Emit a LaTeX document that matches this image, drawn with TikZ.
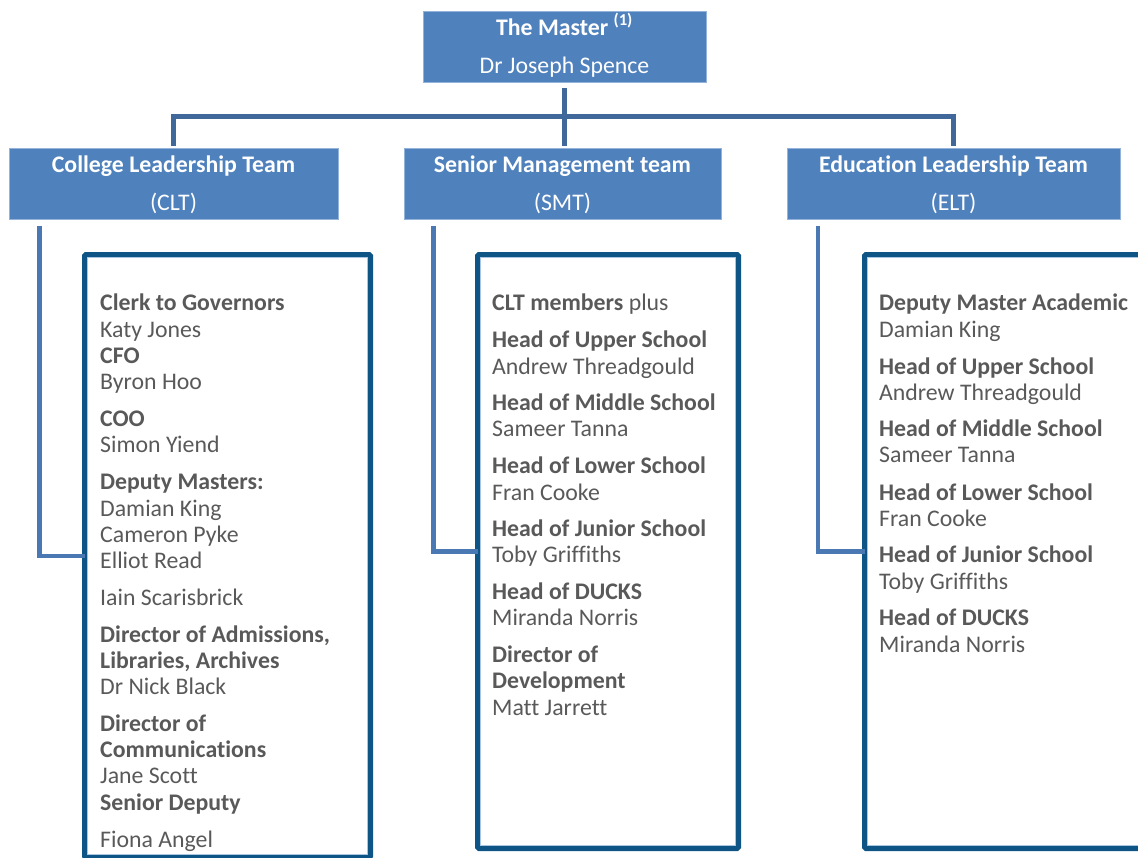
\documentclass[tikz,border=0pt]{standalone}
\usepackage{fontspec}
\setmainfont{Carlito}[Ligatures=NoCommon]
\definecolor{hdrblue}{HTML}{4F81BD}
\definecolor{hdredge}{HTML}{93B3DB}
\definecolor{busblue}{HTML}{41689A}
\definecolor{sideblue}{HTML}{4A78B2}
\definecolor{boxblue}{HTML}{0E5485}
\definecolor{boxinner}{HTML}{A8C6E2}
\definecolor{txtgray}{HTML}{595959}
\begin{document}
\begin{tikzpicture}[x=1pt,y=-1pt,
  hdrbox/.style={draw=hdredge,line width=0.8pt,fill=hdrblue,inner sep=0pt,outer sep=0pt},
  hdrtext/.style={anchor=base,inner sep=0pt,text=white,font=\fontsize{23.8}{26}\selectfont},
  busline/.style={draw=busblue,line width=5pt},
  sideline/.style={draw=sideblue,line width=4.5pt},
  contentbox/.style={draw=boxblue,line width=5pt,rounded corners=1.5pt,inner sep=0pt,outer sep=0pt},
  innerline/.style={draw=boxinner,line width=0.8pt},
  itemtext/.style={anchor=base west,inner sep=0pt,text=txtgray,font=\fontsize{23.8}{26}\selectfont}]
\useasboundingbox (0,0) rectangle (1138,857);

% header boxes
\node[hdrbox,minimum width=283pt,minimum height=71pt] (master) at (564.5,46.5) {};
\node[hdrbox,minimum width=329pt,minimum height=71pt] (clt) at (173.5,183.5) {};
\node[hdrbox,minimum width=317pt,minimum height=71pt] (smt) at (562.5,183.5) {};
\node[hdrbox,minimum width=333pt,minimum height=71pt] (elt) at (953.5,183.5) {};

\node[hdrtext] (mastert) at (564.5,35) {\textbf{The Master \textsuperscript{(1)}}};
\node[hdrtext] (masters) at (564.5,73) {Dr Joseph Spence};
\node[hdrtext] (cltt) at (173.5,172) {\textbf{College Leadership Team}};
\node[hdrtext] (clts) at (173.5,210) {(CLT)};
\node[hdrtext] (smtt) at (562.5,172) {\textbf{Senior Management team}};
\node[hdrtext] (smts) at (562.5,210) {(SMT)};
\node[hdrtext] (eltt) at (953.5,172) {\textbf{Education Leadership Team}};
\node[hdrtext] (elts) at (953.5,210) {(ELT)};

% top connectors
\coordinate (bus) at (564.5,116);
\draw[busline] ([yshift=-6pt]master.south) -- (bus);
\draw[busline] ([yshift=2pt]clt.north) |- (bus) -| ([yshift=2pt]elt.north);
\draw[busline] (bus) -- ([yshift=2pt]bus |- smt.north);

% content boxes
\node[contentbox,minimum width=286pt,minimum height=603pt] (cltbox) at (227.5,556) {};
\node[contentbox,minimum width=261pt,minimum height=594pt] (smtbox) at (608,551.5) {};
\node[contentbox,minimum width=300pt,minimum height=594pt] (eltbox) at (1014.5,551.5) {};
\foreach \b in {cltbox,smtbox,eltbox}{
  \draw[innerline] ([shift={(3pt,-3pt)}]\b.north west) rectangle ([shift={(-3pt,3pt)}]\b.south east);
}

% side connectors
\coordinate (cltc) at (39.5,226);
\coordinate (smtc) at (433.5,226);
\coordinate (eltc) at (818,226);
\draw[sideline] (cltc) |- (cltbox.west);
\draw[sideline] (smtc) |- (smtbox.west);
\draw[sideline] (eltc) |- (eltbox.west);

% CLT list
\foreach \y/\t [count=\i] in {
  310/{\textbf{Clerk to Governors}},
  337/{Katy Jones},
  363/{\textbf{CFO}},
  389/{Byron Hoo},
  426/{\textbf{COO}},
  452/{Simon Yiend},
  489/{\textbf{Deputy Masters:}},
  516/{Damian King},
  542/{Cameron Pyke},
  568/{Elliot Read},
  605/{Iain Scarisbrick},
  642/{\textbf{Director of Admissions,}},
  668/{\textbf{Libraries, Archives}},
  694/{Dr Nick Black},
  731/{\textbf{Director of}},
  757/{\textbf{Communications}},
  783/{Jane Scott},
  810/{\textbf{Senior Deputy}},
  847/{Fiona Angel}}{
  \node[itemtext] (cltl\i) at (100,\y) {\t};
}

% SMT list
\foreach \y/\t [count=\i] in {
  310/{\textbf{CLT members} plus},
  347/{\textbf{Head of Upper School}},
  374/{Andrew Threadgould},
  410/{\textbf{Head of Middle School}},
  436/{Sameer Tanna},
  473/{\textbf{Head of Lower School}},
  500/{Fran Cooke},
  536/{\textbf{Head of Junior School}},
  562/{Toby Griffiths},
  599/{\textbf{Head of DUCKS}},
  625/{Miranda Norris},
  662/{\textbf{Director of}},
  688/{\textbf{Development}},
  715/{Matt Jarrett}}{
  \node[itemtext] (smtl\i) at (492,\y) {\t};
}

% ELT list
\foreach \y/\t [count=\i] in {
  310/{\textbf{Deputy Master Academic}},
  337/{Damian King},
  374/{\textbf{Head of Upper School}},
  400/{Andrew Threadgould},
  436/{\textbf{Head of Middle School}},
  462/{Sameer Tanna},
  500/{\textbf{Head of Lower School}},
  526/{Fran Cooke},
  562/{\textbf{Head of Junior School}},
  589/{Toby Griffiths},
  625/{\textbf{Head of DUCKS}},
  652/{Miranda Norris}}{
  \node[itemtext] (eltl\i) at (879,\y) {\t};
}
\end{tikzpicture}
\end{document}
